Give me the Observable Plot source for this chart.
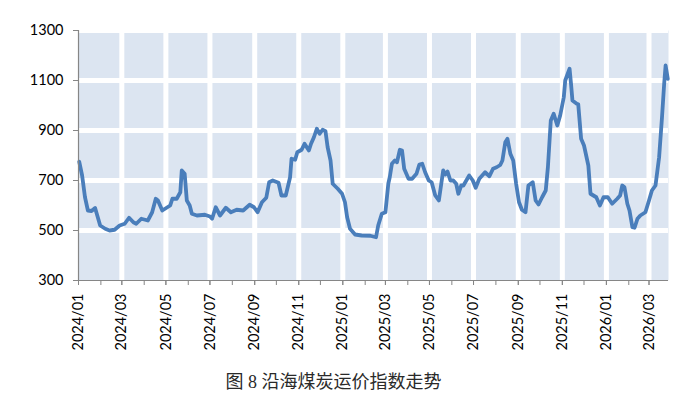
<!DOCTYPE html>
<html>
<head>
<meta charset="utf-8">
<script src="https://cdn.jsdelivr.net/npm/d3@7"></script>
<script src="https://cdn.jsdelivr.net/npm/@observablehq/plot@0.6"></script>
<style>
  body { margin: 0; background: #fff; }
  #caption { width: 667px; text-align: center; font-family: "Liberation Serif", "Noto Sans CJK SC", serif; font-size: 18px; font-weight: 400; color: #2a2a2a; line-height: 24px; }
</style>
</head>
<body>
<div id="chart"></div>
<div id="caption">图 8 沿海煤炭运价指数走势</div>
<script>
const dates = [
  "2024-01-02","2024-01-06","2024-01-10","2024-01-14","2024-01-19","2024-01-24","2024-01-27","2024-01-31",
  "2024-02-07","2024-02-13","2024-02-20","2024-02-27","2024-03-05","2024-03-11","2024-03-17","2024-03-21",
  "2024-03-28","2024-04-06","2024-04-12","2024-04-17","2024-04-20","2024-04-26","2024-05-02","2024-05-07",
  "2024-05-10","2024-05-16","2024-05-21","2024-05-23","2024-05-27","2024-05-30","2024-06-03","2024-06-06",
  "2024-06-13","2024-06-24","2024-07-01","2024-07-04","2024-07-09","2024-07-15","2024-07-23","2024-07-30",
  "2024-08-07","2024-08-16","2024-08-25","2024-08-31","2024-09-05","2024-09-11","2024-09-17","2024-09-21",
  "2024-09-26","2024-10-04","2024-10-08","2024-10-14","2024-10-20","2024-10-22","2024-10-27","2024-10-30",
  "2024-11-05","2024-11-09","2024-11-15","2024-11-18","2024-11-22","2024-11-26","2024-11-30","2024-12-04",
  "2024-12-08","2024-12-11","2024-12-15","2024-12-18","2024-12-25","2024-12-31","2025-01-04","2025-01-07",
  "2025-01-11","2025-01-18","2025-01-27","2025-02-08","2025-02-16","2025-02-19","2025-02-24","2025-03-01",
  "2025-03-05","2025-03-07","2025-03-10","2025-03-14","2025-03-17","2025-03-21","2025-03-24","2025-03-27",
  "2025-04-02","2025-04-07","2025-04-13","2025-04-17","2025-04-21","2025-04-25","2025-04-30","2025-05-04",
  "2025-05-09","2025-05-14","2025-05-17","2025-05-20","2025-05-23","2025-05-26","2025-05-30","2025-06-03",
  "2025-06-07","2025-06-10","2025-06-14","2025-06-17","2025-06-25","2025-06-30","2025-07-04","2025-07-09",
  "2025-07-17","2025-07-23","2025-07-28","2025-08-02","2025-08-07","2025-08-10","2025-08-14","2025-08-17",
  "2025-08-21","2025-08-25","2025-08-29","2025-09-02","2025-09-06","2025-09-11","2025-09-13","2025-09-15",
  "2025-09-21","2025-09-25","2025-09-29","2025-10-04","2025-10-09","2025-10-12","2025-10-16","2025-10-20",
  "2025-10-25","2025-10-29","2025-11-03","2025-11-05","2025-11-11","2025-11-13","2025-11-15","2025-11-21",
  "2025-11-23","2025-11-27","2025-12-01","2025-12-07","2025-12-10","2025-12-14","2025-12-18","2025-12-23",
  "2025-12-28","2026-01-03","2026-01-09","2026-01-16","2026-01-20","2026-01-23","2026-01-26","2026-01-30",
  "2026-02-02","2026-02-06","2026-02-09","2026-02-13","2026-02-17","2026-02-24","2026-03-01","2026-03-05",
  "2026-03-10","2026-03-15","2026-03-19","2026-03-22","2026-03-24","2026-03-27"
];
const values = [
  775,720,633,580,578,590,560,520,
  507,500,503,520,527,551,533,527,
  547,540,573,627,620,580,591,600,
  627,627,653,740,727,620,600,567,
  560,563,556,547,593,560,591,573,
  583,580,603,593,573,613,631,693,
  700,691,640,640,713,787,783,813,
  823,847,820,847,873,907,887,903,
  897,833,780,687,667,647,613,553,
  507,484,480,479,473,520,567,573,
  687,713,767,780,773,823,820,747,
  707,707,727,764,767,733,700,693,
  640,620,680,740,724,736,700,700,
  687,647,680,680,720,700,671,707,
  733,717,747,753,762,780,853,867,
  807,780,687,613,583,573,627,680,
  693,620,604,633,660,753,940,967,
  920,960,1033,1100,1147,1087,1020,1007,
  1005,867,840,760,647,640,633,600,
  633,633,607,627,640,680,673,607,
  580,513,511,547,560,573,620,660,
  680,793,953,1087,1160,1107
];
const yTicks = [300, 500, 700, 900, 1100, 1300];
const xLabelTicks = ["2024-01-01","2024-03-01","2024-05-01","2024-07-01","2024-09-01","2024-11-01",
  "2025-01-01","2025-03-01","2025-05-01","2025-07-01","2025-09-01","2025-11-01","2026-01-01","2026-03-01"];
const xStart = "2024-01-01", xEnd = "2026-03-28";

const parse = d3.utcParse("%Y-%m-%d");
const data = dates.map((d, i) => ({date: parse(d), value: values[i]}));
const labelTicks = xLabelTicks.map(parse);
const gridTicks = labelTicks.slice(1);
const monthTicks = d3.utcMonth.range(parse(xStart), parse(xEnd));
const fmt = d3.utcFormat("%Y/%m");

const chart = Plot.plot({
  width: 679,
  height: 370,
  marginLeft: 78,
  marginRight: 11,
  marginTop: 30,
  marginBottom: 90,
  style: {fontFamily: "Lato, 'Open Sans', sans-serif", fontSize: "14.5px", color: "#000", background: "#fff"},
  x: {type: "utc", domain: [parse(xStart), parse(xEnd)]},
  y: {domain: [300, 1300]},
  marks: [
    Plot.frame({fill: "#dce5f1", stroke: "none"}),
    Plot.gridX(gridTicks, {stroke: "#fff", strokeOpacity: 1, strokeWidth: 5}),
    Plot.gridY(yTicks.slice(1), {stroke: "#fff", strokeOpacity: 1, strokeWidth: 5}),
    Plot.line(data, {x: "date", y: "value", stroke: "#4a7ebb", strokeWidth: 3.8, strokeLinejoin: "round", strokeLinecap: "round"}),
    Plot.ruleY([300], {stroke: "#868686", strokeWidth: 1.2}),
    Plot.ruleX([parse(xStart)], {stroke: "#868686", strokeWidth: 1.2}),
    Plot.axisY({ticks: yTicks, tickSize: 5, tickPadding: 10, tickFormat: d => String(d), stroke: "#868686", fill: "#000", label: null}),
    Plot.axisX({ticks: monthTicks, tickSize: 5, tickFormat: () => "", stroke: "#868686", label: null}),
    Plot.axisX({ticks: labelTicks, tickSize: 5, tickPadding: 8, tickRotate: -90, tickFormat: fmt, stroke: "#868686", fill: "#000", label: null})
  ]
});
document.getElementById("chart").appendChild(chart);
</script>
</body>
</html>
